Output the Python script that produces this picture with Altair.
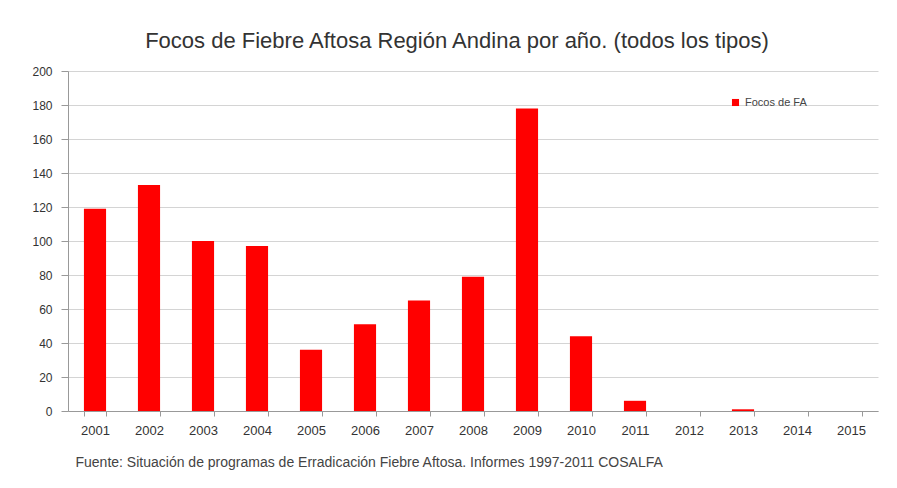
import altair as alt
import pandas as pd

years = ["2001", "2002", "2003", "2004", "2005", "2006", "2007", "2008",
         "2009", "2010", "2011", "2012", "2013", "2014", "2015"]
focos = [119, 133, 100, 97, 36, 51, 65, 79, 178, 44, 6, 0, 1, 0, 0]
serie = "Focos de FA"

df = pd.DataFrame({"year": years, "focos": focos, "serie": [serie] * len(years)})

chart = alt.Chart(df).mark_bar().encode(
    x=alt.X("year:N", sort=years,
            scale=alt.Scale(paddingInner=0.59, paddingOuter=0.295),
            axis=alt.Axis(
                title="Fuente: Situación de programas de Erradicación Fiebre Aftosa. Informes 1997-2011 COSALFA",
                titleAnchor="start", titleAlign="left", titleX=7, titleY=51,
                titleBaseline="middle", titleFontSize=14, titleFontWeight="normal",
                titleColor="#444", titleFont="Liberation Sans",
                labelAngle=0, labelFontSize=13, labelColor="#333", labelPadding=8,
                labelFont="Liberation Sans",
                tickBand="extent", tickColor="#999", tickSize=5,
                domainColor="#999", grid=False)),
    y=alt.Y("focos:Q", scale=alt.Scale(domain=[0, 200]),
            axis=alt.Axis(title=None, values=list(range(0, 201, 20)),
                          labelFontSize=12, labelColor="#333", labelPadding=9,
                          labelFont="Liberation Sans",
                          tickColor="#999", tickSize=7, domainColor="#999",
                          gridColor="#d4d4d4")),
    color=alt.Color("serie:N", scale=alt.Scale(range=["#ff0000"]),
                    legend=alt.Legend(title=None, orient="none", legendX=662, legendY=26,
                                      symbolType="square", symbolSize=50,
                                      labelFontSize=11, labelColor="#444",
                                      labelFont="Liberation Sans")),
).properties(
    width=810, height=340,
    title=alt.TitleParams("Focos de Fiebre Aftosa Región Andina por año. (todos los tipos)",
                          fontSize=22, fontWeight="normal", color="#333",
                          font="Liberation Sans", offset=12, dx=-16),
    autosize=alt.AutoSizeParams(type="none"),
    padding={"left": 60, "top": 63, "right": 11, "bottom": 69},
).configure_view(stroke=None)

chart.save("out.html", embed_options={"renderer": "svg", "actions": False})
